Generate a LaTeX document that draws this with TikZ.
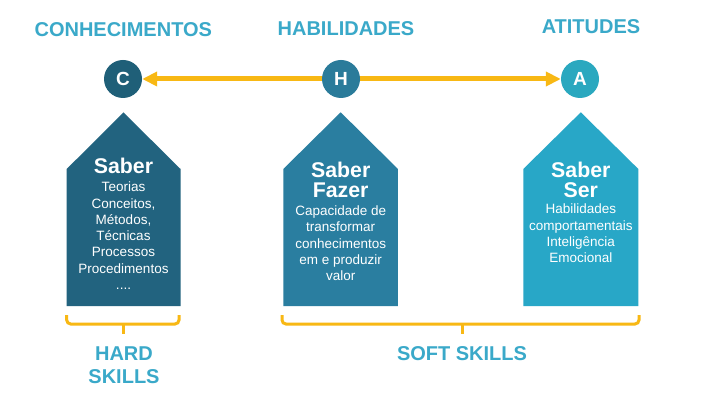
\documentclass[tikz,border=0pt]{standalone}
\usepackage{fontspec}
\setmainfont{Liberation Sans}
\usetikzlibrary{arrows.meta,backgrounds}
\definecolor{titlec}{HTML}{3AA9C9}
\definecolor{gold}{HTML}{F8B814}
\definecolor{boxA}{HTML}{22637F}
\definecolor{boxB}{HTML}{2A7EA0}
\definecolor{boxC}{HTML}{28A7C7}
\definecolor{circA}{HTML}{1F5F78}
\definecolor{circB}{HTML}{2A7B9A}
\definecolor{circC}{HTML}{2AA8BF}
\tikzset{
  x=1pt, y=-1pt,
  heading/.style={text=titlec, font=\fontsize{20}{23.3}\selectfont\bfseries, inner sep=0pt, align=center},
  letter/.style={circle, minimum size=38pt, inner sep=0pt, text=white, font=\fontsize{19}{19}\selectfont\bfseries},
  boxtitle/.style={text=white, font=\fontsize{21.3}{19.4}\selectfont\bfseries, inner sep=0pt, align=center, anchor=north},
  boxbody/.style={text=white, font=\fontsize{13.5}{16.3}\selectfont, inner sep=0pt, align=center, anchor=north},
  link/.style={draw=gold, line width=5pt, -{Triangle[length=15pt,width=14pt]}},
  bracepath/.style={draw=gold, line width=3pt, rounded corners=4pt},
}
\begin{document}
\begin{tikzpicture}
\useasboundingbox (0,0) rectangle (703,419);
% headings
\node[heading, anchor=base] (hc) at (123.3,36.7) {CONHECIMENTOS};
\node[heading, anchor=base] (hh) at (346,36) {HABILIDADES};
\node[heading, anchor=base] (ha) at (591,34) {ATITUDES};
% circles
\node[letter, fill=circA] (C) at (123,79) {C};
\node[letter, fill=circB] (H) at (341,79) {H};
\node[letter, fill=circC] (A) at (580,79) {A};
\begin{pgfonlayer}{background}
\fill[white] (0,0) rectangle (703,419);
\draw[link] (H.center) -- (C);
\draw[link] (H.center) -- (A);
\end{pgfonlayer}
% houses
\fill[boxA] (66.7,306) -- (66.7,169) -- (123.5,112.5) -- (180.5,169) -- (180.5,306) -- cycle;
\fill[boxB] (283.3,306) -- (283.3,169) -- (340.7,112.3) -- (397.9,169) -- (397.9,306) -- cycle;
\fill[boxC] (523.3,306) -- (523.3,169) -- (580.8,112.3) -- (638.3,169) -- (638.3,306) -- cycle;
% box texts
\node[boxtitle] (t1) at (123.5,157.8) {Saber};
\node[boxbody] (b1) at (123.5,181.8) {Teorias\\Conceitos,\\Métodos,\\Técnicas\\Processos\\Procedimentos\\....};
\node[boxtitle] (t2) at (340.7,162.1) {Saber\\Fazer};
\node[boxbody] (b2) at (340.7,205.7) {Capacidade de\\transformar\\conhecimentos\\em e produzir\\valor};
\node[boxtitle] (t3) at (580.8,162.1) {Saber\\Ser};
\node[boxbody] (b3) at (580.8,204) {Habilidades\\comportamentais\\Inteligência\\Emocional};
% braces
\coordinate (hl) at (66.7,315);
\coordinate (hr) at (179,315);
\coordinate (hm) at (123.3,324);
\coordinate (hs) at (123.3,333.5);
\draw[bracepath] (hl) -- (66.7,324) -- (179,324) -- (hr);
\draw[draw=gold, line width=3pt] (hm) -- (hs);
\coordinate (sl) at (282,315);
\coordinate (sr) at (639,315);
\coordinate (sm) at (462.7,324);
\coordinate (ss) at (462.7,333.5);
\draw[bracepath] (sl) -- (282,324) -- (639,324) -- (sr);
\draw[draw=gold, line width=3pt] (sm) -- (ss);
% bottom labels
\node[heading, anchor=north] (hard) at (124,346.4) {HARD\\SKILLS};
\node[heading, anchor=base] (soft) at (462,360) {SOFT SKILLS};
\end{tikzpicture}
\end{document}
